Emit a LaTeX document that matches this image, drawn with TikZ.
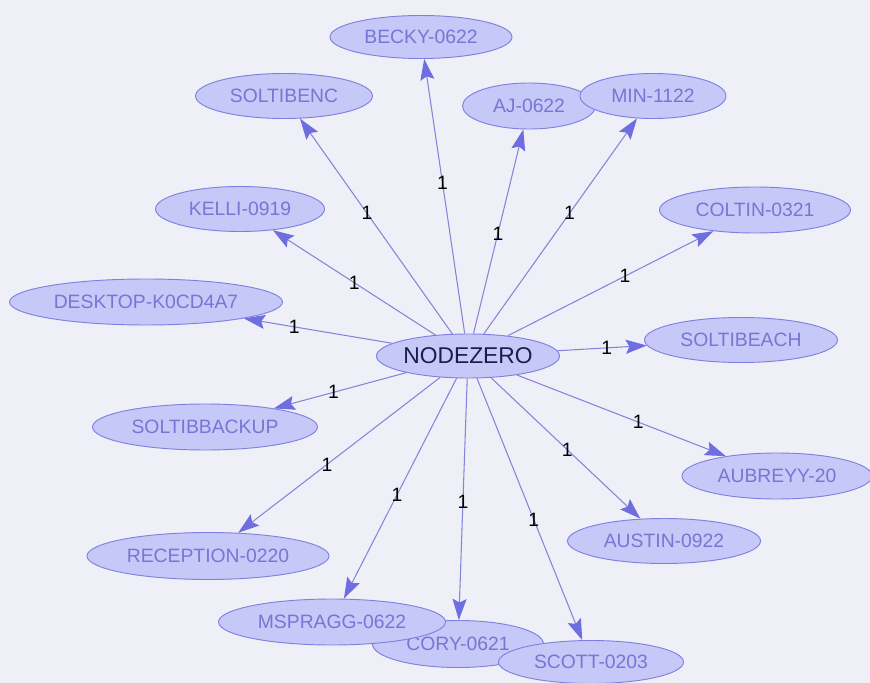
\documentclass[tikz,border=0pt]{standalone}
\usepackage{fontspec}
\setmainfont{Liberation Sans}
\usetikzlibrary{positioning, arrows.meta, shapes.geometric}
\definecolor{bgcol}{RGB}{239,239,247}
\definecolor{hostfill}{RGB}{198,200,248}
\definecolor{hostline}{RGB}{128,128,224}
\definecolor{edgecol}{RGB}{132,132,218}
\definecolor{tipcol}{RGB}{110,110,224}
\definecolor{blurtxt}{RGB}{118,118,212}
\definecolor{nztxt}{RGB}{28,28,84}
\pgfdeclarelayer{bg}
\pgfsetlayers{bg,main}

\begin{document}
\begin{tikzpicture}[
    x=0.03cm, y=-0.03cm,
    >={Stealth[length=18pt, width=12pt, inset=3pt, color=tipcol]},
    host/.style={ellipse, draw=hostline, line width=0.8pt, fill=hostfill,
        text=blurtxt, inner sep=0pt, minimum height=1.35cm,
        font=\fontsize{16.5}{18}\selectfont},
    link/.style={->, draw=edgecol, line width=0.9pt},
    lbl/.style={text=black, inner sep=0pt, font=\fontsize{16.5}{18}\selectfont}
]
\useasboundingbox (0,0) rectangle (870,683);

% 中心节点
\node[host, minimum width=5.31cm, minimum height=1.32cm, text=nztxt,
      font=\fontsize{19.5}{21}\selectfont] (nz) at (468,356) {NODEZERO};

% 外围节点
\node[host, minimum width=5.46cm, minimum height=1.29cm] (becky) at (421,37) {BECKY-0622};
\node[host, minimum width=5.31cm] (soltibenc) at (284,96) {SOLTIBENC};
\node[host, minimum width=3.99cm, minimum height=1.38cm] (aj) at (529,106) {AJ-0622};
\node[host, minimum width=4.38cm] (min) at (653,96) {MIN-1122};
\node[host, minimum width=5.07cm] (kelli) at (240,209) {KELLI-0919};
\node[host, minimum width=5.73cm, minimum height=1.38cm] (coltin) at (755,210) {COLTIN-0321};
\node[host, minimum width=8.19cm, minimum height=1.38cm] (desktop) at (146,302) {DESKTOP-K0CD4A7};
\node[host, minimum width=5.79cm] (soltibeach) at (741,340) {SOLTIBEACH};
\node[host, minimum width=6.75cm, minimum height=1.38cm] (soltibackup) at (205,427) {SOLTIBBACKUP};
\node[host, minimum width=5.7cm, minimum height=1.38cm] (aubrey) at (777,476) {AUBREYY-20};
\node[host, minimum width=7.26cm, minimum height=1.41cm] (reception) at (208,556) {RECEPTION-0220};
\node[host, minimum width=5.79cm] (austin) at (664,541) {AUSTIN-0922};
\node[host, minimum width=5.13cm, minimum height=1.41cm] (cory) at (458,644) {CORY-0621};
\node[host, minimum width=6.81cm, minimum height=1.38cm] (mspragg) at (332,622) {MSPRAGG-0622};
\node[host, minimum width=5.55cm, minimum height=1.29cm] (scott) at (591,662) {SCOTT-0203};

% 连线
\begin{pgfonlayer}{bg}
\fill[bgcol] (0,0) rectangle (870,683);
\path[link] (nz) edge node[lbl, pos=0.55] {1} (becky);
\path[link] (nz) edge node[lbl, pos=0.56] {1} (soltibenc);
\path[link] (nz) edge node[lbl, pos=0.49] {1} (aj);
\path[link] (nz) edge node[lbl, pos=0.56] {1} (min);
\path[link] (nz) edge node[lbl, pos=0.50] {1} (kelli);
\path[link] (nz) edge node[lbl, pos=0.57] {1} (coltin);
\path[link] (nz) edge node[lbl, pos=0.66] {1} (desktop);
\path[link] (nz) edge node[lbl, pos=0.55] {1} (soltibeach);
\path[link] (nz) edge node[lbl, pos=0.55] {1} (soltibackup);
\path[link] (nz) edge node[lbl, pos=0.58] {1} (aubrey);
\path[link] (nz) edge node[lbl, pos=0.56] {1} (reception);
\path[link] (nz) edge node[lbl, pos=0.51] {1} (austin);
\path[link] (nz) edge node[lbl, pos=0.53] {1} (mspragg);
\path[link] (nz) edge node[lbl, pos=0.51] {1} (cory);
\path[link] (nz) edge node[lbl, pos=0.54] {1} (scott);
\end{pgfonlayer}

\end{tikzpicture}
\end{document}
